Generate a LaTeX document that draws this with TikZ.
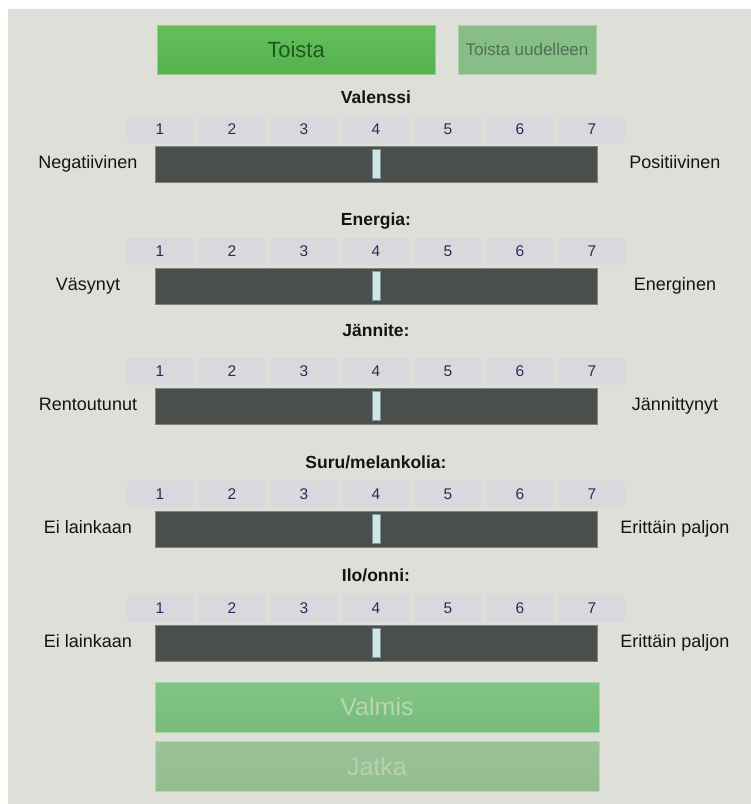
\documentclass[tikz,border=0pt]{standalone}
\usepackage{fontspec}
\setmainfont{Liberation Sans}
\usetikzlibrary{positioning}
\usepackage{xcolor}
\definecolor{PanelGray}{RGB}{223, 223, 218}
\definecolor{TileGray}{RGB}{217, 217, 221}
\definecolor{NumPurple}{RGB}{55, 36, 90}
\definecolor{BarDark}{RGB}{74, 78, 76}
\definecolor{BarEdge}{RGB}{128, 131, 124}
\definecolor{ThumbCyan}{RGB}{207, 230, 230}
\definecolor{ThumbEdge}{RGB}{128, 152, 152}
\definecolor{PlayTop}{RGB}{100, 190, 92}
\definecolor{PlayBottom}{RGB}{84, 177, 76}
\definecolor{PlayText}{RGB}{28, 90, 28}
\definecolor{ReplayFill}{RGB}{135, 189, 134}
\definecolor{ReplayText}{RGB}{80, 112, 84}
\definecolor{DoneTop}{RGB}{130, 196, 133}
\definecolor{DoneBottom}{RGB}{119, 188, 122}
\definecolor{DoneText}{RGB}{183, 214, 180}
\definecolor{NextTop}{RGB}{156, 194, 152}
\definecolor{NextBottom}{RGB}{146, 188, 142}
\definecolor{NextText}{RGB}{184, 208, 178}
\colorlet{LabelText}{black!92}
\tikzset{
    % Big green buttons
    playbtn/.style={
        rectangle,
        top color=PlayTop,
        bottom color=PlayBottom,
        draw=PlayTop!70!white,
        line width=0.5pt,
        text=PlayText,
        inner sep=0pt,
        font=\fontsize{22}{22}\selectfont
    },
    replaybtn/.style={
        rectangle,
        fill=ReplayFill,
        draw=ReplayFill!70!white,
        line width=0.5pt,
        text=ReplayText,
        inner sep=0pt,
        font=\fontsize{17}{17}\selectfont
    },
    donebtn/.style={
        rectangle,
        top color=DoneTop,
        bottom color=DoneBottom,
        draw=DoneTop!70!white,
        line width=0.5pt,
        text=DoneText,
        inner sep=0pt,
        minimum width=444pt,
        minimum height=50pt,
        font=\fontsize{25}{25}\selectfont
    },
    nextbtn/.style={
        donebtn,
        top color=NextTop,
        bottom color=NextBottom,
        draw=NextTop!70!white,
        text=NextText
    },
    % Scale number tiles
    scaletile/.style={
        rectangle,
        fill=TileGray,
        rounded corners=2pt,
        minimum width=66pt,
        minimum height=27pt,
        inner sep=0pt,
        text=NumPurple,
        font=\fontsize{15.5}{15.5}\selectfont
    },
    % Slider track and thumb
    sliderbar/.style={
        rectangle,
        draw=BarEdge,
        fill=BarDark,
        line width=0.6pt,
        minimum width=442pt,
        minimum height=36pt,
        inner sep=0pt
    },
    sliderthumb/.style={
        rectangle,
        draw=ThumbEdge,
        fill=ThumbCyan,
        line width=0.5pt,
        minimum width=8pt,
        minimum height=29pt,
        inner sep=0pt
    },
    scaletitle/.style={
        text=LabelText,
        inner sep=0pt,
        text height=12.5pt,
        text depth=0pt,
        font=\fontsize{17.5}{17.5}\selectfont\bfseries
    },
    endlabel/.style={
        text=LabelText,
        inner sep=0pt,
        text height=12.9pt,
        text depth=0pt,
        font=\fontsize{18}{18}\selectfont
    }
}
\begin{document}
\begin{tikzpicture}[x=1pt, y=-1pt]

    % ==========================================
    % PANEL
    % ==========================================
    \useasboundingbox (0,0) rectangle (751,804);
    \fill[white] (0,0) rectangle (751,804);
    \fill[PanelGray] (8,9) rectangle (751,804);

    % Top buttons
    \node[playbtn, minimum width=278pt, minimum height=49pt] (play) at (296,49.5) {Toista};
    \node[replaybtn, minimum width=138pt, minimum height=49pt] (replay) at (527,49.5) {Toista uudelleen};

    % ==========================================
    % RATING SCALES
    % ==========================================
    \foreach \t/\l/\r/\ty/\by [count=\s] in {
        Valenssi/Negatiivinen/Positiivinen/97/146,
        Energia:/Väsynyt/Energinen/219/268,
        Jännite:/Rentoutunut/Jännittynyt/330/388,
        {Suru/melankolia:}/Ei lainkaan/Erittäin paljon/462/511,
        {Ilo/onni:}/Ei lainkaan/Erittäin paljon/575/625} {

        \node[scaletitle] (title\s) at (376,\ty) {\t};

        % Number tiles
        \foreach \n in {1,...,7} {
            \node[scaletile] (tile\s-\n) at ({160+72*(\n-1)},\by-16.5) {\n};
        }

        % Track with thumb at the middle
        \node[sliderbar] (bar\s) at (376,\by+18) {};
        \node[sliderthumb] (thumb\s) at (bar\s.center) {};

        % End labels
        \node[endlabel] (left\s) at (88,\by+16) {\l};
        \node[endlabel] (right\s) at (675,\by+16) {\r};
    }

    % ==========================================
    % BOTTOM BUTTONS
    % ==========================================
    \node[donebtn] (done) at (377,707) {Valmis};
    \node[nextbtn, below=9pt of done] (next) {Jatka};

\end{tikzpicture}
\end{document}
